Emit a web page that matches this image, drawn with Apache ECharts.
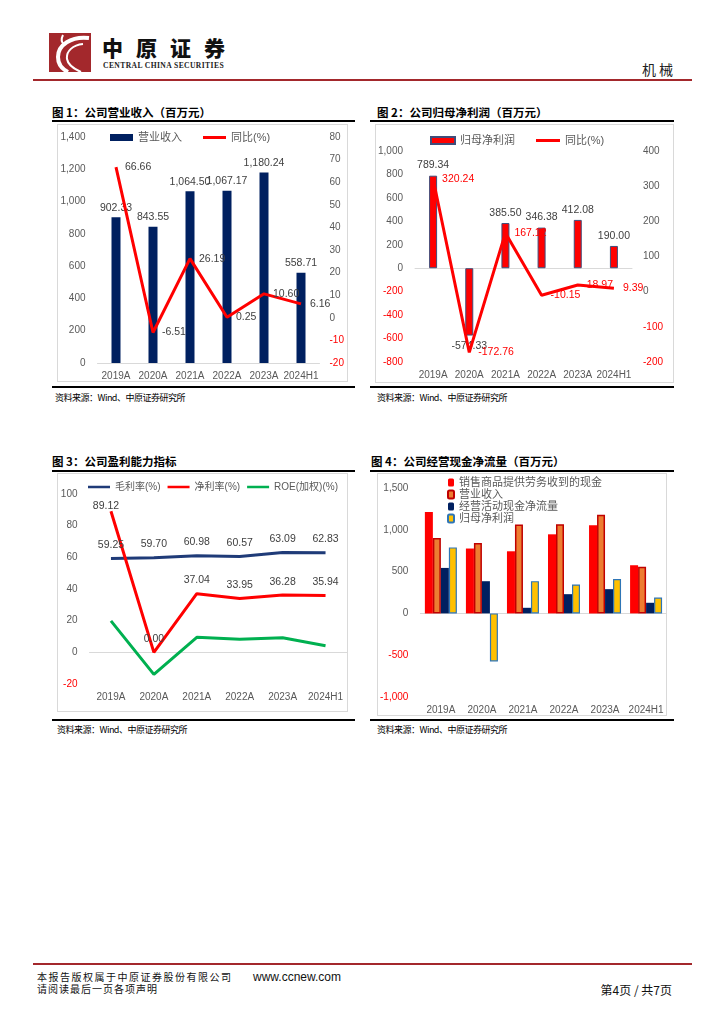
<!DOCTYPE html>
<html><head><meta charset="utf-8">
<script src="https://cdn.jsdelivr.net/npm/echarts@6/dist/echarts.min.js"></script>
<style>
body{margin:0;background:#fff;}
#page{position:relative;width:724px;height:1024px;overflow:hidden;font-family:"Noto Sans CJK SC",sans-serif;background:#fff;}
.abs{position:absolute;white-space:nowrap;}
.title{position:absolute;font-size:11.5px;line-height:14px;font-weight:bold;color:#000;white-space:nowrap;}
.src{position:absolute;font-size:9px;line-height:12px;letter-spacing:-0.5px;color:#000;white-space:nowrap;}
.hr{position:absolute;height:2px;background:#000;}
.frame{position:absolute;border:1px solid #D9D9D9;box-sizing:border-box;}
.chart{position:absolute;}
</style></head>
<body>
<div id="page">
  <!-- header -->
  <svg class="abs" style="left:49px;top:33px" width="42" height="39" viewBox="0 0 42 39">
    <rect x="0" y="0" width="42" height="39" fill="#A3282C"/>
    <path d="M40 5 C 22 3, 9 12, 9 24 C 9 31, 13 36, 19 39" stroke="#fff" stroke-width="4" fill="none"/>
    <path d="M34 11 C 24 12, 17 18, 18 26 C 19 32, 25 36, 32 39" stroke="#fff" stroke-width="2" fill="none"/>
    <path d="M14 2 C 12 6, 12 9, 15 11" stroke="#fff" stroke-width="2" fill="none"/>
  </svg>
  <div class="abs" style="left:102px;top:34px;font-size:21px;line-height:26px;font-weight:900;letter-spacing:13px;color:#111;">中原证券</div>
  <div class="abs" style="left:103px;top:61px;font-family:'Liberation Serif',serif;font-size:7.6px;line-height:10px;font-weight:bold;letter-spacing:0.4px;color:#222;">CENTRAL CHINA SECURITIES</div>
  <div class="abs" style="left:642px;top:60px;font-size:14px;line-height:18px;letter-spacing:3px;color:#222;">机械</div>
  <div class="abs" style="left:33px;top:79px;width:659px;height:2px;background:#A3282C;"></div>

  <!-- chart 1 -->
  <div class="title" style="left:52px;top:105px;">图 1：公司营业收入（百万元）</div>
  <div class="hr" style="left:52px;top:120px;width:303px;"></div>
  <div class="frame" style="left:57px;top:124px;width:291px;height:258px;"></div>
  <div id="c1" class="chart" style="left:57px;top:124px;width:291px;height:258px;"></div>
  <div class="hr" style="left:52px;top:386px;width:303px;"></div>
  <div class="src" style="left:55px;top:392px;">资料来源：Wind、中原证券研究所</div>

  <!-- chart 2 -->
  <div class="title" style="left:377px;top:105px;">图 2：公司归母净利润（百万元）</div>
  <div class="hr" style="left:370px;top:120px;width:304px;"></div>
  <div class="frame" style="left:375px;top:124px;width:299px;height:259px;"></div>
  <div id="c2" class="chart" style="left:375px;top:124px;width:299px;height:259px;"></div>
  <div class="hr" style="left:370px;top:386px;width:304px;"></div>
  <div class="src" style="left:377px;top:392px;">资料来源：Wind、中原证券研究所</div>

  <!-- chart 3 -->
  <div class="title" style="left:52px;top:454px;">图 3：公司盈利能力指标</div>
  <div class="hr" style="left:52px;top:470px;width:303px;"></div>
  <div class="frame" style="left:57px;top:473px;width:291px;height:239px;"></div>
  <div id="c3" class="chart" style="left:57px;top:473px;width:291px;height:239px;"></div>
  <div class="hr" style="left:52px;top:719px;width:303px;"></div>
  <div class="src" style="left:57px;top:724px;">资料来源：Wind、中原证券研究所</div>

  <!-- chart 4 -->
  <div class="title" style="left:371px;top:454px;">图 4：公司经营现金净流量（百万元）</div>
  <div class="hr" style="left:370px;top:470px;width:304px;"></div>
  <div class="frame" style="left:377px;top:473px;width:290px;height:243px;"></div>
  <div id="c4" class="chart" style="left:377px;top:473px;width:290px;height:243px;"></div>
  <div class="hr" style="left:370px;top:719px;width:304px;"></div>
  <div class="src" style="left:377px;top:724px;">资料来源：Wind、中原证券研究所</div>

  <!-- footer -->
  <div class="abs" style="left:33px;top:963px;width:659px;height:2px;background:#A3282C;"></div>
  <div class="abs" style="left:37px;top:970px;font-size:10px;line-height:14px;letter-spacing:1.5px;color:#111;">本报告版权属于中原证券股份有限公司</div>
  <div class="abs" style="left:253px;top:969px;font-family:'Liberation Sans',sans-serif;font-size:12px;line-height:16px;color:#111;">www.ccnew.com</div>
  <div class="abs" style="left:37px;top:982px;font-size:10px;line-height:14px;letter-spacing:1px;color:#111;">请阅读最后一页各项声明</div>
  <div class="abs" style="left:584px;top:982px;width:88px;text-align:right;font-size:12px;line-height:15px;color:#111;">第4页 / 共7页</div>
</div>

<script>
// ---------- data ----------
const years = ['2019A', '2020A', '2021A', '2022A', '2023A', '2024H1'];
const revenue = [902.33, 843.55, 1064.50, 1067.17, 1180.24, 558.71];
const revenueYoY = [66.66, -6.51, 26.19, 0.25, 10.60, 6.16];
const netProfit = [789.34, -574.33, 385.50, 346.38, 412.08, 190.00];
const netProfitYoY = [320.24, -172.76, 167.12, -10.15, 18.97, 9.39];
const grossMargin = [59.25, 59.70, 60.98, 60.57, 63.09, 62.83];
const netMargin = [89.12, 0.00, 37.04, 33.95, 36.28, 35.94];
const roeWeighted = [19.9, -13.9, 9.5, 8.2, 9.2, 4.2];
const cashFromSales = [1212, 776, 743, 946, 1053, 576];
const opCashFlow = [544, 385, 67, 230, 290, 127];

// tick labels
const c1LeftTicks = [0, 200, 400, 600, 800, 1000, 1200, 1400];
const c1RightTicks = [-20, -10, 0, 10, 20, 30, 40, 50, 60, 70, 80];
const c2LeftTicks = [-800, -600, -400, -200, 0, 200, 400, 600, 800, 1000];
const c2RightTicks = [-200, -100, 0, 100, 200, 300, 400];
const c3Ticks = [-20, 0, 20, 40, 60, 80, 100];
const c4Ticks = [-1000, -500, 0, 500, 1000, 1500];

// series names
const n1Bar = '营业收入', n1Line = '同比(%)';
const n2Bar = '归母净利润', n2Line = '同比(%)';
const n3a = '毛利率(%)', n3b = '净利率(%)', n3c = 'ROE(加权)(%)';
const n4a = '销售商品提供劳务收到的现金', n4b = '营业收入', n4c = '经营活动现金净流量', n4d = '归母净利润';

// ---------- helpers ----------
const FONT = '"Liberation Sans","Noto Sans CJK SC",sans-serif';
const GREY = '#595959', DARK = '#404040', RED = '#FF0000', NAVY = '#002060';
const LINE_ICON = 'path://M0,0L0.01,0M0,2L25,2L25,5L0,5ZM0,7L0.01,7';
const fmtInt = v => Number(v).toLocaleString('en-US');
const fmt2 = v => Number(v).toLocaleString('en-US', {minimumFractionDigits: 2, maximumFractionDigits: 2});
const negRed = v => Number(v) < 0 ? RED : GREY;
function valAxis(ticks, extra) {
  return Object.assign({
    type: 'value', min: ticks[0], max: ticks[ticks.length - 1], interval: ticks[1] - ticks[0],
    splitLine: {show: false}, axisLine: {show: false}, axisTick: {show: false},
    axisLabel: {color: negRed, fontSize: 10, fontFamily: FONT, margin: 12, formatter: fmtInt}
  }, extra || {});
}
function catAxis(extra) {
  return Object.assign({
    type: 'category', data: years,
    axisLine: {lineStyle: {color: '#D9D9D9', width: 1}}, axisTick: {show: false},
    axisLabel: {color: GREY, fontSize: 10, fontFamily: FONT, margin: 8, interval: 0}
  }, extra || {});
}
const legendText = {color: GREY, fontSize: 11, fontFamily: FONT};
const lineLegend = name => ({name: name, icon: LINE_ICON, itemStyle: {borderWidth: 0}});
function lineSeries(name, data, color, extra) {
  return Object.assign({
    name: name, type: 'line', data: data, symbol: 'circle', symbolSize: 0.01, color: color,
    itemStyle: {color: color}, lineStyle: {color: color, width: 3}
  }, extra || {});
}

// ---------- chart 1 ----------
echarts.init(document.getElementById('c1')).setOption({
  animation: false,
  legend: {left: 53, top: 8, padding: 0, itemWidth: 23, itemHeight: 7, itemGap: 21, textStyle: legendText,
    data: [{name: n1Bar, icon: 'rect'}, lineLegend(n1Line)]},
  grid: {left: 40.5, right: 28.5, top: 13, bottom: 19},
  xAxis: catAxis(),
  yAxis: [valAxis(c1LeftTicks), valAxis(c1RightTicks, {position: 'right', axisLabel: {color: negRed, fontSize: 10, fontFamily: FONT, margin: 10}})],
  series: [
    {name: n1Bar, type: 'bar', data: revenue, barWidth: 9, itemStyle: {color: NAVY},
     label: {show: true, position: 'top', distance: 4, color: DARK, fontSize: 10.5, fontFamily: FONT, formatter: p => fmt2(p.value)}},
    lineSeries(n1Line, revenueYoY, RED, {yAxisIndex: 1,
     label: {show: true, position: 'right', distance: 9, color: DARK, fontSize: 10.5, fontFamily: FONT, formatter: p => fmt2(p.value)}})
  ]
});

// ---------- chart 2 ----------
echarts.init(document.getElementById('c2')).setOption({
  animation: false,
  legend: {left: 55, top: 11, padding: 0, itemWidth: 24, itemHeight: 7, itemGap: 21, textStyle: legendText,
    data: [{name: n2Bar, icon: 'rect'}, lineLegend(n2Line)]},
  grid: {left: 40, right: 42, top: 27, bottom: 21},
  xAxis: catAxis(),
  yAxis: [valAxis(c2LeftTicks), valAxis(c2RightTicks, {position: 'right', axisLabel: {color: negRed, fontSize: 10, fontFamily: FONT, margin: 11}})],
  series: [
    {name: n2Bar, type: 'bar', barWidth: 8, itemStyle: {color: RED, borderColor: '#3F4D7A', borderWidth: 1},
     data: netProfit.map(v => ({value: v, label: {position: v < 0 ? 'bottom' : 'top'}})),
     label: {show: true, distance: 5, color: DARK, fontSize: 10.5, fontFamily: FONT, formatter: p => fmt2(p.value)}},
    lineSeries(n2Line, netProfitYoY, RED, {yAxisIndex: 1, z: 5,
     label: {show: true, position: 'right', distance: 9, color: RED, fontSize: 10.5, fontFamily: FONT, formatter: p => fmt2(p.value)}})
  ]
});

// ---------- chart 3 ----------
const lbl3 = {show: true, position: 'top', distance: 8, color: DARK, fontSize: 10.5, fontFamily: FONT, formatter: p => fmt2(p.value)};
echarts.init(document.getElementById('c3')).setOption({
  animation: false,
  legend: {left: 31, top: 9, padding: 0, width: 258, itemWidth: 22, itemHeight: 7, itemGap: 7,
    textStyle: {color: GREY, fontSize: 10, fontFamily: FONT},
    data: [lineLegend(n3a), lineLegend(n3b), lineLegend(n3c)]},
  grid: {left: 32.5, right: 1, top: 21, bottom: 28},
  xAxis: catAxis(),
  yAxis: valAxis(c3Ticks),
  series: [
    lineSeries(n3a, grossMargin, '#1F3B78', {label: lbl3}),
    lineSeries(n3b, netMargin.map((v, i) => i === 0 ? {value: v, label: {distance: 0, offset: [-5, 0]}} : v), RED, {label: lbl3}),
    lineSeries(n3c, roeWeighted, '#00B050')
  ]
});

// ---------- chart 4 ----------
echarts.init(document.getElementById('c4')).setOption({
  animation: false,
  legend: {orient: 'vertical', left: 70, top: 4, padding: 0, itemWidth: 6, itemHeight: 8, itemGap: 1, textStyle: legendText,
    data: [n4a, n4b, n4c, n4d]},
  grid: {left: 42.4, right: 0.4, top: 15, bottom: 19},
  xAxis: catAxis(),
  yAxis: valAxis(c4Ticks),
  series: [
    {name: n4a, type: 'bar', data: cashFromSales, barWidth: 8, barGap: '0%', itemStyle: {color: RED}},
    {name: n4b, type: 'bar', data: revenue, barWidth: 8, barGap: '0%', itemStyle: {color: '#ED7D31', borderColor: '#C00000', borderWidth: 1.5}},
    {name: n4c, type: 'bar', data: opCashFlow, barWidth: 8, barGap: '0%', itemStyle: {color: NAVY}},
    {name: n4d, type: 'bar', data: netProfit, barWidth: 8, barGap: '0%', itemStyle: {color: '#FFC000', borderColor: '#2E75B6', borderWidth: 1.2}}
  ]
});
</script>
</body></html>
